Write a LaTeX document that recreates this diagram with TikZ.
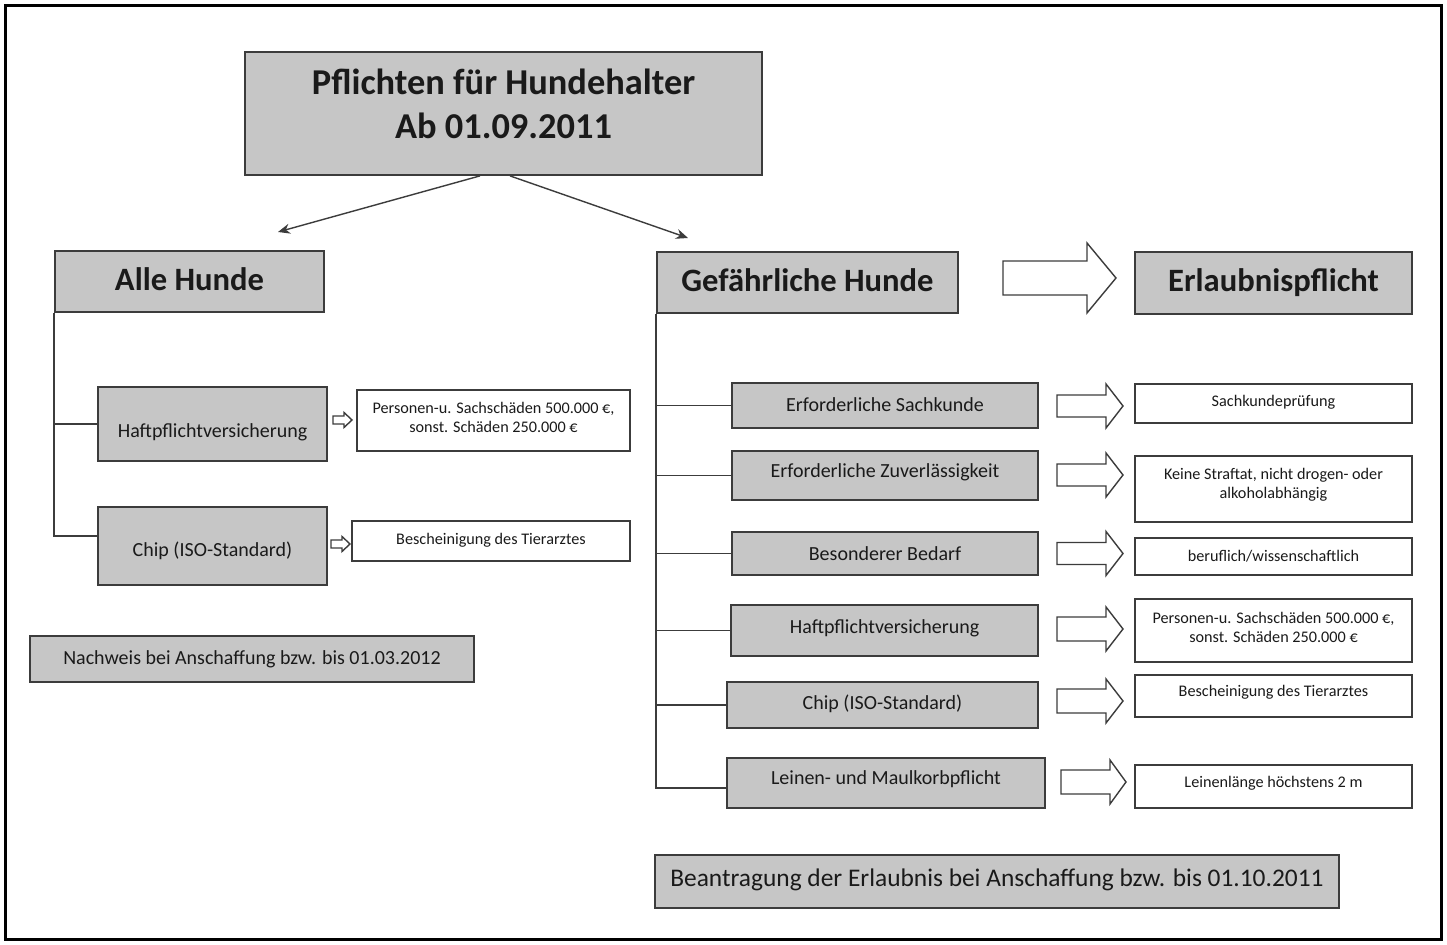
\documentclass[tikz,border=0pt]{standalone}
\usepackage{fontspec}
\setmainfont{Carlito}
\usetikzlibrary{arrows.meta}
\definecolor{boxgray}{HTML}{C6C6C6}
\definecolor{edgegray}{HTML}{3C3C3C}
\definecolor{txt}{HTML}{1A1A1A}
\tikzset{
  graybox/.style={draw=edgegray, line width=0.9pt, fill=boxgray, inner sep=0pt},
  whitebox/.style={draw=edgegray, line width=0.9pt, fill=white, inner sep=0pt},
  lab/.style={inner sep=0pt, align=center, text=txt},
  titlefont/.style={lab, font=\fontsize{18.2}{22}\selectfont\bfseries},
  bigfont/.style={lab, font=\fontsize{16.3}{19}\selectfont\bfseries},
  midfont/.style={lab, font=\fontsize{10}{12}\selectfont},
  smallfont/.style={lab, font=\fontsize{8.1}{9.5}\selectfont},
  notefont/.style={lab, font=\fontsize{10}{12}\selectfont},
  antragfont/.style={lab, font=\fontsize{12.7}{15}\selectfont},
  conn/.style={draw=edgegray, line width=0.7pt, -{Stealth[length=6pt,width=5pt]}},
  tree/.style={draw=edgegray, line width=0.7pt},
  blockarrow/.style={draw=edgegray, line width=0.7pt, fill=white, line join=miter}
}
\newcommand{\blockarr}[6]{% x1, x2 (tip), xh (head start), yc, body half, head half
  \path[blockarrow] (#1,#4-#5) -- (#3,#4-#5) -- (#3,#4-#6) -- (#2,#4) -- (#3,#4+#6) -- (#3,#4+#5) -- (#1,#4+#5) -- cycle;}
\begin{document}
\begin{tikzpicture}[x=0.5pt,y=-0.5pt]
\useasboundingbox (0,0) rectangle (1447,945);
\fill[white] (0,0) rectangle (1447,945);
\draw[black, line width=1.5pt] (5,6) rectangle (1441,940);

% title
\node[graybox, minimum width=258.5pt, minimum height=61.5pt,
  label={[titlefont, yshift=4.75pt]center:Pflichten für Hundehalter\\Ab 01.09.2011}] (title) at (503.5,113.5) {};

% left column
\node[graybox, minimum width=134.5pt, minimum height=30.5pt,
  label={[bigfont, yshift=1pt]center:Alle Hunde}] (alle) at (189.5,281.5) {};
\node[graybox, minimum width=114.5pt, minimum height=37pt,
  label={[midfont, yshift=-4pt]center:Haftpflichtversicherung}] (haftL) at (212.5,424) {};
\node[whitebox, minimum width=136.5pt, minimum height=30.5pt,
  label={[smallfont, yshift=1.5pt]center:Personen-u. Sachschäden 500.000 €,\\sonst. Schäden 250.000 €}] (persL) at (493.5,420.5) {};
\node[graybox, minimum width=114.5pt, minimum height=39pt,
  label={[midfont, yshift=-2.5pt]center:Chip (ISO-Standard)}] (chipL) at (212.5,546) {};
\node[whitebox, minimum width=139pt, minimum height=20pt,
  label={[smallfont, yshift=0.5pt]center:Bescheinigung des Tierarztes}] (beschL) at (491,541) {};
\node[graybox, minimum width=222pt, minimum height=23pt,
  label={[notefont]center:Nachweis bei Anschaffung bzw. bis 01.03.2012}] (nachweis) at (252,659) {};

% right column
\node[graybox, minimum width=150.5pt, minimum height=30.5pt,
  label={[bigfont, yshift=1pt]center:Gefährliche Hunde}] (gef) at (807.5,282.5) {};
\node[graybox, minimum width=138.5pt, minimum height=31pt,
  label={[bigfont]center:Erlaubnispflicht}] (erl) at (1273.5,283) {};

\node[graybox, minimum width=153pt, minimum height=22.5pt,
  label={[midfont, yshift=0.5pt]center:Erforderliche Sachkunde}] (r1) at (885,405.5) {};
\node[graybox, minimum width=153pt, minimum height=24.5pt,
  label={[midfont, yshift=1.75pt]center:Erforderliche Zuverlässigkeit}] (r2) at (885,475.5) {};
\node[graybox, minimum width=153pt, minimum height=21.5pt,
  label={[midfont]center:Besonderer Bedarf}] (r3) at (885,553.5) {};
\node[graybox, minimum width=153.5pt, minimum height=25.5pt,
  label={[midfont, yshift=1.25pt]center:Haftpflichtversicherung}] (r4) at (884.5,630.5) {};
\node[graybox, minimum width=155.5pt, minimum height=23pt,
  label={[midfont, yshift=0.5pt]center:Chip (ISO-Standard)}] (r5) at (882.5,705) {};
\node[graybox, minimum width=159pt, minimum height=25pt,
  label={[midfont, yshift=2pt]center:Leinen- und Maulkorbpflicht}] (r6) at (886,783) {};

\node[whitebox, minimum width=138.5pt, minimum height=19.5pt,
  label={[smallfont, yshift=0.75pt]center:Sachkundeprüfung}] (s1) at (1273.5,403.5) {};
\node[whitebox, minimum width=138.5pt, minimum height=33pt,
  label={[smallfont, yshift=2.25pt]center:Keine Straftat, nicht drogen- oder\\alkoholabhängig}] (s2) at (1273.5,489) {};
\node[whitebox, minimum width=138.5pt, minimum height=18.5pt,
  label={[smallfont]center:beruflich/wissenschaftlich}] (s3) at (1273.5,556.5) {};
\node[whitebox, minimum width=138.5pt, minimum height=31.5pt,
  label={[smallfont, yshift=1.5pt]center:Personen-u. Sachschäden 500.000 €,\\sonst. Schäden 250.000 €}] (s4) at (1273.5,630.5) {};
\node[whitebox, minimum width=138.5pt, minimum height=21pt,
  label={[smallfont, yshift=2pt]center:Bescheinigung des Tierarztes}] (s5) at (1273.5,696) {};
\node[whitebox, minimum width=138.5pt, minimum height=21.5pt,
  label={[smallfont, yshift=1.5pt]center:Leinenlänge höchstens 2 m}] (s6) at (1273.5,786.5) {};

\node[graybox, minimum width=342pt, minimum height=26.5pt,
  label={[antragfont, yshift=0.75pt]center:Beantragung der Erlaubnis bei Anschaffung bzw. bis 01.10.2011}] (antrag) at (997,881.5) {};

% connectors from title
\coordinate (tipL) at (278,232);
\coordinate (tipR) at (688,238);
\draw[conn] ([xshift=-11.75pt]title.south) -- (tipL);
\draw[conn] ([xshift=3.25pt]title.south) -- (tipR);

% left tree
\draw[tree] (alle.south west) |- ([yshift=5pt]chipL.west);
\draw[tree] (alle.south west |- haftL.west) -- (haftL.west);

% right tree
\draw[tree] (gef.south west) |- ([yshift=-2.5pt]r6.west);
\foreach \r in {r1,r2,r3,r4,r5}{
  \draw[tree] (gef.south west |- \r.west) -- (\r.west);
}

% block arrows
\blockarr{1003}{1116}{1087}{278}{17}{35}
\blockarr{1057}{1123}{1106}{406}{11}{22}
\blockarr{1057}{1123}{1106}{475}{11}{22}
\blockarr{1057}{1123}{1106}{553.5}{11}{22}
\blockarr{1057}{1123}{1106}{629}{12}{22}
\blockarr{1057}{1123}{1106}{701}{12}{22}
\blockarr{1061}{1126}{1110}{782}{12}{22}
\blockarr{333}{352}{344}{420}{4}{7.5}
\blockarr{331}{350}{342}{544}{4}{7.5}
\end{tikzpicture}
\end{document}
